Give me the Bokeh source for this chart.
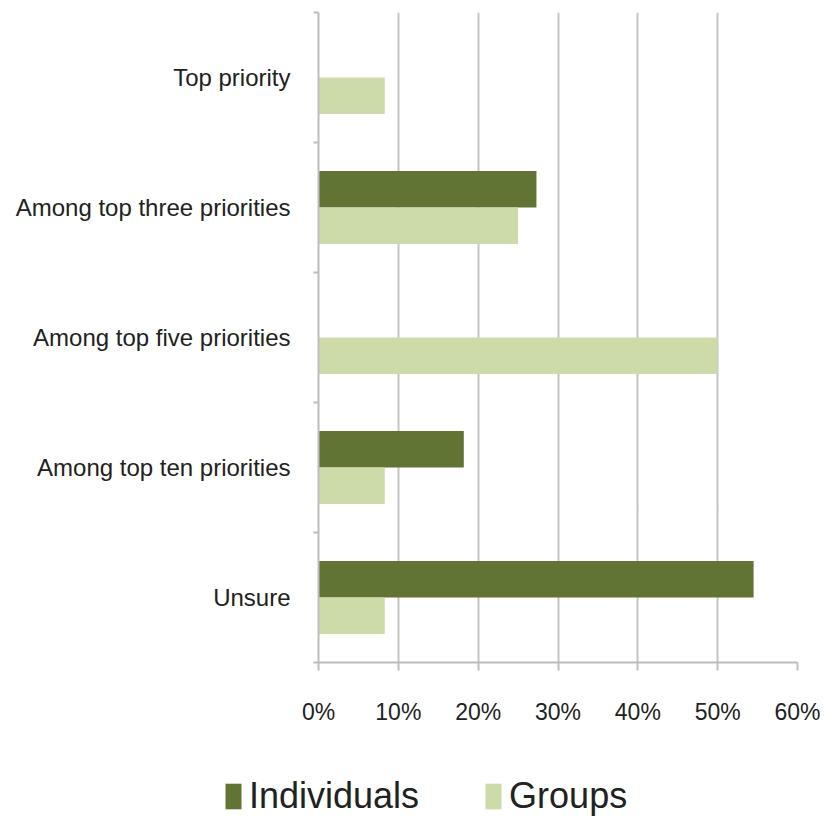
from bokeh.plotting import figure
from bokeh.layouts import column, row
from bokeh.models import (Range1d, FixedTicker, NumeralTickFormatter, ColumnDataSource,
                          Legend, LegendItem)
from bokeh.embed import file_html
from bokeh.resources import INLINE

categories = ["Top priority", "Among top three priorities", "Among top five priorities",
              "Among top ten priorities", "Unsure"]
individuals = [0.0, 0.273, 0.0, 0.182, 0.545]
groups = [0.083, 0.25, 0.50, 0.083, 0.083]
x_ticks = [0.0, 0.1, 0.2, 0.3, 0.4, 0.5, 0.6]
series_names = ["Individuals", "Groups"]

DARK = "#627434"
LIGHT = "#cddba8"
FONT = "Liberation Sans"
TXT = "#222222"

n = len(categories)
centers = [n - i - 0.5 for i in range(n)]
src = ColumnDataSource(dict(
    cat=categories,
    y_ind=[c + 0.14 for c in centers],
    y_grp=[c - 0.14 for c in centers],
    ind=individuals,
    grp=groups,
))

p = figure(width=839, height=737, output_backend="svg", toolbar_location=None,
           x_range=Range1d(0, 0.6), y_range=Range1d(0, n),
           min_border_left=318, min_border_right=42, min_border_top=12, min_border_bottom=75)
p.outline_line_color = None

r1 = p.hbar(y="y_ind", right="ind", left=0, height=0.28, source=src,
            fill_color=DARK, line_color=None)
r2 = p.hbar(y="y_grp", right="grp", left=0, height=0.28, source=src,
            fill_color=LIGHT, line_color=None)

# x axis
p.xaxis.ticker = FixedTicker(ticks=x_ticks)
p.xaxis.formatter = NumeralTickFormatter(format="0%")
p.xaxis.axis_line_color = "#bdbdbd"
p.xaxis.axis_line_width = 2
p.xaxis.major_tick_line_color = "#bdbdbd"
p.xaxis.major_tick_line_width = 2
p.xaxis.major_tick_in = 0
p.xaxis.major_tick_out = 8
p.xaxis.minor_tick_line_color = None
p.xaxis.major_label_standoff = 28
p.xaxis.major_label_text_font = FONT
p.xaxis.major_label_text_font_size = "23px"
p.xaxis.major_label_text_color = TXT

# y axis
p.yaxis.ticker = FixedTicker(ticks=centers, minor_ticks=list(range(n + 1)))
p.yaxis.major_label_overrides = {c: lab for c, lab in zip(centers, categories)}
p.yaxis.axis_line_color = "#bdbdbd"
p.yaxis.axis_line_width = 2
p.yaxis.major_tick_line_color = None
p.yaxis.minor_tick_line_color = "#bdbdbd"
p.yaxis.minor_tick_line_width = 2
p.yaxis.minor_tick_in = 0
p.yaxis.minor_tick_out = 5
p.yaxis.major_label_standoff = 22
p.yaxis.major_label_text_font = FONT
p.yaxis.major_label_text_font_size = "24px"
p.yaxis.major_label_text_color = TXT

p.xgrid.ticker = FixedTicker(ticks=x_ticks)
p.xgrid.grid_line_color = "#c4c4c4"
p.xgrid.grid_line_width = 2
p.ygrid.grid_line_color = None

# legend strip
p2 = figure(width=839, height=88, output_backend="svg", toolbar_location=None,
            x_range=Range1d(0, 1), y_range=Range1d(0, 1),
            min_border=0, min_border_left=0, min_border_right=0,
            min_border_top=0, min_border_bottom=0)
p2.axis.visible = False
p2.grid.visible = False
p2.outline_line_color = None
e = dict(y=[0.5], right=[0.0])
d1 = p2.hbar(y="y", right="right", left=0, height=0.1, source=ColumnDataSource(e),
             fill_color=DARK, line_color=None)
d2 = p2.hbar(y="y", right="right", left=0, height=0.1, source=ColumnDataSource(dict(e)),
             fill_color=LIGHT, line_color=None)
legend = Legend(items=[LegendItem(label=series_names[0], renderers=[d1], index=0),
                       LegendItem(label=series_names[1], renderers=[d2], index=0)],
                orientation="horizontal", location=(223, 8),
                glyph_width=20, glyph_height=32, label_standoff=6, spacing=64,
                label_text_font=FONT, label_text_font_size="36px", label_text_color=TXT,
                border_line_color=None, background_fill_alpha=0, padding=0,
                label_height=32, margin=0)
p2.add_layout(legend, "center")

open("out.html", "w").write(file_html(column(p, row(p2), spacing=0), INLINE))
